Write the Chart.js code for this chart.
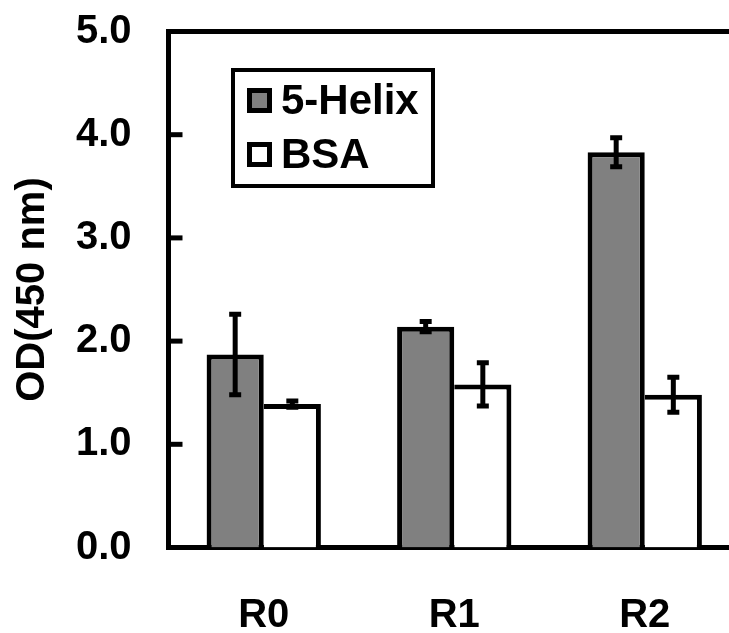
<!DOCTYPE html>
<html>
<head>
<meta charset="utf-8">
<script src="https://cdn.jsdelivr.net/npm/chart.js@4/dist/chart.umd.min.js"></script>
<style>
  html, body { margin: 0; padding: 0; background: #ffffff; overflow: hidden; }
  #wrap { width: 745px; height: 633px; }
</style>
</head>
<body>
<div id="wrap"><canvas id="c" width="745" height="633"></canvas></div>
<script>
const categories = ['R0', 'R1', 'R2'];
const seriesNames = ['5-Helix', 'BSA'];
const helixValues = [1.87, 2.14, 3.83];
const helixErrors = [0.39, 0.05, 0.14];
const bsaValues = [1.39, 1.58, 1.48];
const bsaErrors = [0.03, 0.21, 0.17];
const yMin = 0, yMax = 5, yStep = 1;
const yTitle = 'OD(450 nm)';

const FONT = '"Liberation Sans", Arial, Helvetica, sans-serif';
Chart.defaults.font.family = FONT;
Chart.defaults.color = '#000';

const errorBars = {
  id: 'errorBars',
  afterDatasetsDraw(chart) {
    const ctx = chart.ctx;
    const y = chart.scales.y;
    ctx.save();
    ctx.strokeStyle = '#000';
    ctx.lineCap = 'butt';
    chart.data.datasets.forEach((ds, i) => {
      const meta = chart.getDatasetMeta(i);
      meta.data.forEach((bar, j) => {
        const v = ds.data[j], e = ds.errors[j];
        const x = bar.x;
        const yt = y.getPixelForValue(v + e);
        const yb = y.getPixelForValue(v - e);
        ctx.lineWidth = 5;
        ctx.beginPath();
        ctx.moveTo(x, yt); ctx.lineTo(x, yb);
        ctx.stroke();
        ctx.beginPath();
        ctx.moveTo(x - 6, yt); ctx.lineTo(x + 6, yt);
        ctx.moveTo(x - 6, yb); ctx.lineTo(x + 6, yb);
        ctx.stroke();
      });
    });
    ctx.restore();
  }
};

const frame = {
  id: 'frame',
  afterDraw(chart) {
    const ctx = chart.ctx;
    const a = chart.chartArea;
    const y = chart.scales.y;
    ctx.save();
    ctx.strokeStyle = '#000';
    ctx.lineWidth = 5;
    ctx.lineCap = 'butt';
    // top border
    ctx.beginPath();
    ctx.moveTo(a.left - 2.5, a.top);
    ctx.lineTo(chart.width, a.top);
    ctx.stroke();
    // inward y ticks
    y.ticks.forEach(t => {
      const py = y.getPixelForValue(t.value);
      ctx.beginPath();
      ctx.moveTo(a.left, py);
      ctx.lineTo(a.left + 14, py);
      ctx.stroke();
    });
    // legend
    ctx.lineWidth = 4;
    ctx.strokeRect(233, 70, 200, 116);
    const rows = [101, 155];
    ctx.font = 'bold 42px ' + FONT;
    ctx.textBaseline = 'middle';
    ctx.textAlign = 'left';
    ctx.fillStyle = '#000';
    chart.data.datasets.forEach((ds, i) => {
      const cy = rows[i];
      ctx.fillStyle = ds.backgroundColor;
      ctx.fillRect(249.5, cy - 10.5, 20, 20);
      ctx.lineWidth = 5;
      ctx.strokeRect(249.5, cy - 10.5, 20, 20);
      ctx.fillStyle = '#000';
      ctx.fillText(ds.label, 281, cy + 1);
    });
    ctx.restore();
  }
};

new Chart(document.getElementById('c'), {
  type: 'bar',
  data: {
    labels: categories,
    datasets: [
      {
        label: seriesNames[0],
        data: helixValues,
        errors: helixErrors,
        backgroundColor: '#808080',
        borderColor: '#000',
        borderWidth: { top: 5, left: 5, right: 5, bottom: 0 },
        borderSkipped: false,
        categoryPercentage: 0.6,
        barPercentage: 1.0
      },
      {
        label: seriesNames[1],
        data: bsaValues,
        errors: bsaErrors,
        backgroundColor: '#ffffff',
        borderColor: '#000',
        borderWidth: { top: 5, left: 0, right: 5, bottom: 0 },
        borderSkipped: false,
        categoryPercentage: 0.6,
        barPercentage: 1.0
      }
    ]
  },
  options: {
    responsive: false,
    animation: false,
    devicePixelRatio: 1,
    layout: { padding: { top: 31.5, right: 5, left: 0, bottom: 0 } },
    plugins: { legend: { display: false }, tooltip: { enabled: false } },
    scales: {
      x: {
        grid: { display: false, drawTicks: false },
        border: { display: true, color: '#000', width: 5 },
        ticks: { font: { size: 40, weight: 'bold' }, color: '#000', padding: 44 },
        afterFit(s) { s.height = 85.5; s.paddingLeft = 0; s.paddingRight = 0; }
      },
      y: {
        min: yMin, max: yMax,
        grid: { display: false, drawTicks: false },
        border: { display: true, color: '#000', width: 5 },
        ticks: {
          stepSize: yStep,
          font: { size: 40, weight: 'bold' },
          color: '#000',
          padding: 37,
          callback: v => Number(v).toFixed(1)
        },
        title: {
          display: true,
          text: yTitle,
          font: { size: 40, weight: 'bold' },
          color: '#000',
          padding: { top: 9, bottom: 0 }
        },
        afterFit(s) { s.width = 168.5; s.paddingTop = 0; s.paddingBottom = 0; }
      }
    }
  },
  plugins: [errorBars, frame]
});
</script>
</body>
</html>
